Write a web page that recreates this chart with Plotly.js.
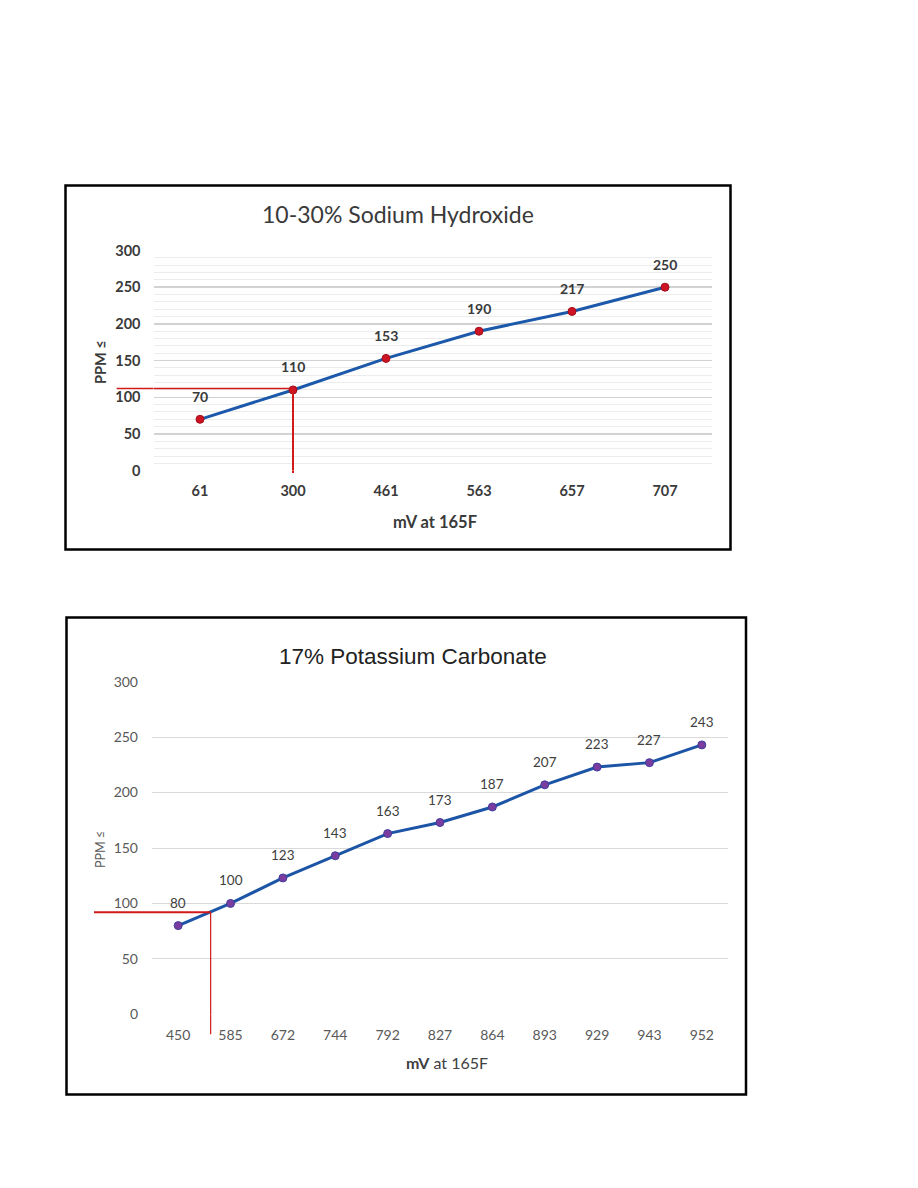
<!DOCTYPE html>
<html><head><meta charset="utf-8">
<script src="https://cdn.plot.ly/plotly-3.0.1.min.js"></script>
<style>html,body{margin:0;padding:0;background:#fff}#chart{width:918px;height:1188px}</style>
</head><body><div id="chart"></div>
<script>
// ---- data ----
const naohTitle = '10-30% Sodium Hydroxide';
const naohCategories = ['61','300','461','563','657','707'];
const naohPpm = [70,110,153,190,217,250];
const k2co3Title = '17% Potassium Carbonate';
const k2co3Categories = ['450','585','672','744','792','827','864','893','929','943','952'];
const k2co3Ppm = [80,100,123,143,163,173,187,207,223,227,243];
const yTicks = [0,50,100,150,200,250,300];
const naohGuide = {cat: 1, ppm: 112};
const k2co3Guide = {cat: 0.62, ppm: 92};

// ---- layout helpers ----
const W = 918, H = 1188;
const px = x => x / W;
const py = y => 1 - y / H;

const fTop = 'Lato, "Open Sans", sans-serif';
const fBot = 'Lato, "Open Sans", sans-serif';
const fArial = '"Liberation Sans", Arial, sans-serif';

const traces = [
  {x: naohCategories, y: naohPpm, xaxis: 'x', yaxis: 'y', type: 'scatter', mode: 'lines+markers',
   line: {color: '#1d59aa', width: 3}, marker: {color: '#cc1424', size: 8, line: {color: '#a30f1c', width: 1}},
   cliponaxis: false, hoverinfo: 'skip'},
  {x: k2co3Categories, y: k2co3Ppm, xaxis: 'x2', yaxis: 'y2', type: 'scatter', mode: 'lines+markers',
   line: {color: '#1d55a6', width: 3}, marker: {color: '#7a3c9e', size: 8, line: {color: '#3d3f9f', width: 1}},
   cliponaxis: false, hoverinfo: 'skip'}
];

const annotations = [];
// data labels: x given as the category index (category names are numeric strings)
naohPpm.forEach((v, i) => annotations.push({xref: 'x', yref: 'y', x: i, y: v, text: String(v),
  showarrow: false, yshift: 23, font: {family: fTop, size: 14, color: '#3a3a3a', weight: 'bold'}}));
k2co3Ppm.forEach((v, i) => annotations.push({xref: 'x2', yref: 'y2', x: i, y: v, text: String(v),
  showarrow: false, yshift: 23, font: {family: fBot, size: 13.5, color: '#404040'}}));

// titles & axis titles
annotations.push({xref: 'paper', yref: 'paper', x: px(398), y: py(214), text: naohTitle, showarrow: false,
  xanchor: 'center', yanchor: 'middle', font: {family: fTop, size: 23, color: '#3a3a3a'}});
annotations.push({xref: 'paper', yref: 'paper', x: px(413), y: py(656), text: k2co3Title, showarrow: false,
  xanchor: 'center', yanchor: 'middle', font: {family: fArial, size: 22.5, color: '#222'}});
annotations.push({xref: 'paper', yref: 'paper', x: px(435), y: py(522), text: '<b>mV at 165F</b>', showarrow: false,
  xanchor: 'center', yanchor: 'middle', font: {family: fTop, size: 16.5, color: '#3a3a3a'}});
annotations.push({xref: 'paper', yref: 'paper', x: px(447), y: py(1062), text: '<b>mV</b> at 165F', showarrow: false,
  xanchor: 'center', yanchor: 'middle', font: {family: fBot, size: 16, color: '#404040'}});
annotations.push({xref: 'paper', yref: 'paper', x: px(100), y: py(362), text: '<b>PPM ≤</b>', showarrow: false, textangle: -90,
  xanchor: 'center', yanchor: 'middle', font: {family: fTop, size: 14.5, color: '#3a3a3a'}});
annotations.push({xref: 'paper', yref: 'paper', x: px(100), y: py(850), text: 'PPM ≤', showarrow: false, textangle: -90,
  xanchor: 'center', yanchor: 'middle', font: {family: fBot, size: 12.5, color: '#595959'}});

const red = '#d11a1a';
const shapes = [
  // borders
  {type: 'rect', xref: 'paper', yref: 'paper', x0: px(65.5), x1: px(730.5), y0: py(549.5), y1: py(185.5), line: {color: '#000', width: 2.5}},
  {type: 'rect', xref: 'paper', yref: 'paper', x0: px(66.5), x1: px(746), y0: py(1094.5), y1: py(617.5), line: {color: '#000', width: 2.5}},
  // top guide
  {type: 'line', xref: 'x', yref: 'y', x0: -0.5, x1: naohGuide.cat, y0: naohGuide.ppm, y1: naohGuide.ppm, line: {color: red, width: 1.5}},
  {type: 'line', xref: 'x domain', yref: 'y', x0: -0.066, x1: 0, y0: naohGuide.ppm, y1: naohGuide.ppm, line: {color: red, width: 1.5}},
  {type: 'line', xref: 'x', yref: 'y', x0: naohGuide.cat, x1: naohGuide.cat, y0: 0, y1: naohGuide.ppm, line: {color: red, width: 2}},
  {type: 'line', xref: 'x', yref: 'y domain', x0: naohGuide.cat, x1: naohGuide.cat, y0: -0.011, y1: 0, line: {color: red, width: 2}},
  // bottom guide
  {type: 'line', xref: 'x2', yref: 'y2', x0: -0.5, x1: k2co3Guide.cat, y0: k2co3Guide.ppm, y1: k2co3Guide.ppm, line: {color: red, width: 2}},
  {type: 'line', xref: 'x2 domain', yref: 'y2', x0: -0.1007, x1: 0, y0: k2co3Guide.ppm, y1: k2co3Guide.ppm, line: {color: red, width: 2}},
  {type: 'line', xref: 'x2', yref: 'y2', x0: k2co3Guide.cat, x1: k2co3Guide.cat, y0: 0, y1: k2co3Guide.ppm, line: {color: red, width: 1.2}},
  {type: 'line', xref: 'x2', yref: 'y2 domain', x0: k2co3Guide.cat, x1: k2co3Guide.cat, y0: -0.06, y1: 0, line: {color: red, width: 1.2}}
];

const layout = {
  width: W, height: H, margin: {l: 0, r: 0, t: 0, b: 0},
  paper_bgcolor: '#fff', plot_bgcolor: '#fff', showlegend: false,
  xaxis: {domain: [px(153.5), px(711.5)], anchor: 'y', type: 'category', range: [-0.5, naohCategories.length - 0.5],
    showgrid: false, zeroline: false, showline: false, ticks: '', ticklabelstandoff: 10,
    tickfont: {family: fTop, size: 14.5, color: '#3a3a3a', weight: 'bold'}, fixedrange: true},
  yaxis: {domain: [py(470.7), py(250.5)], anchor: 'x', range: [0, 300], tickvals: yTicks, zeroline: false, showline: false,
    ticks: '', ticklabelstandoff: 12, gridcolor: '#d2d2d2', gridwidth: 1.5,
    minor: {dtick: 10, tick0: 0, showgrid: true, gridcolor: '#ececec', gridwidth: 1},
    tickfont: {family: fTop, size: 14.5, color: '#3a3a3a', weight: 'bold'}, fixedrange: true},
  xaxis2: {domain: [px(152), px(728)], anchor: 'y2', type: 'category', range: [-0.5, k2co3Categories.length - 0.5],
    showgrid: false, zeroline: false, showline: false, ticks: '', ticklabelstandoff: 11,
    tickfont: {family: fBot, size: 14, color: '#595959'}, fixedrange: true},
  yaxis2: {domain: [py(1014.3), py(681.7)], anchor: 'x2', range: [0, 300], tickvals: yTicks, zeroline: false, showline: false,
    ticks: '', ticklabelstandoff: 13, gridcolor: '#d9d9d9', gridwidth: 1,
    tickfont: {family: fBot, size: 14, color: '#595959'}, fixedrange: true},
  annotations: annotations,
  shapes: shapes
};

Plotly.newPlot('chart', traces, layout, {staticPlot: true, displayModeBar: false});
</script>
</body></html>
